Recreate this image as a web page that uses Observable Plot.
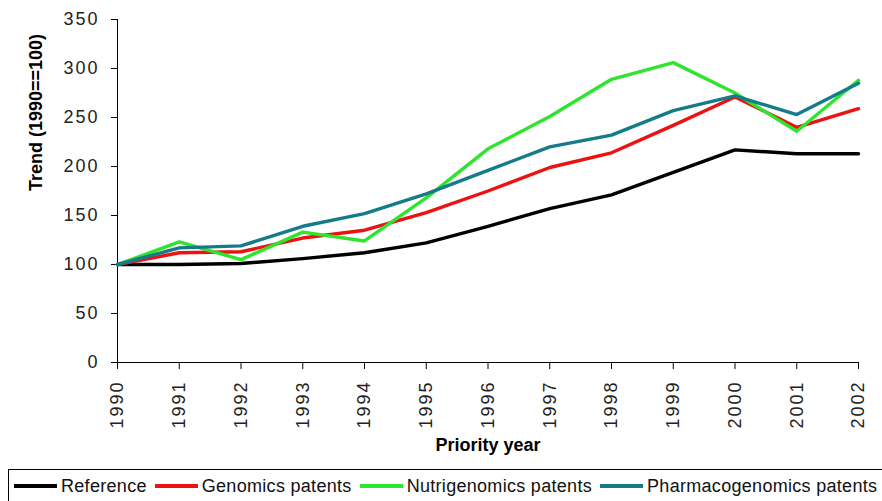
<!DOCTYPE html>
<html>
<head>
<meta charset="utf-8">
<script src="https://cdn.jsdelivr.net/npm/d3@7"></script>
<script src="https://cdn.jsdelivr.net/npm/@observablehq/plot@0.6"></script>
<style>
  html, body { margin: 0; padding: 0; background: #fff; overflow: hidden; }
  body { position: relative; width: 882px; height: 501px; font-family: "Liberation Sans", Arial, sans-serif; }
  #chart svg { display: block; }
  #chart [aria-label="y-axis tick label"] text,
  #chart [aria-label="x-axis tick label"] text { letter-spacing: 2px; }
  #legend {
    position: absolute; left: 8px; top: 469px; width: 890px; height: 34px;
    border: 1px solid #000; box-sizing: border-box;
    display: flex; align-items: center; padding-left: 5px;
    font-size: 18px; color: #111; letter-spacing: 0.3px;
  }
  .item { display: flex; align-items: center; margin-right: 8px; white-space: nowrap; }
  .sw { width: 43px; height: 4px; margin-right: 4px; }
</style>
</head>
<body>
<div id="chart"></div>
<div id="legend"></div>
<script>
const years = [1990,1991,1992,1993,1994,1995,1996,1997,1998,1999,2000,2001,2002];
const reference        = [100,100,101,106,112,122,139,157,171,194,217,213,213];
const genomics         = [100,112,113,127,135,153,175,199,214,242,271,240,259];
const nutrigenomics    = [100,123,105,133,124,168,218,251,289,306,275,236,288];
const pharmacogenomics = [100,117,119,139,152,172,196,220,232,257,272,253,285];
const seriesNames  = ["Reference","Genomics patents","Nutrigenomics patents","Pharmacogenomics patents"];
const seriesColors = ["#000000","#ee1111","#2ee52e","#147c88"];
const yTicks = [0,50,100,150,200,250,300,350];
const yLabel = "Trend (1990==100)";
const xLabel = "Priority year";

const seriesValues = [reference, genomics, nutrigenomics, pharmacogenomics];
const data = [];
seriesNames.forEach((name, i) => {
  years.forEach((yr, j) => data.push({series: name, year: yr, value: seriesValues[i][j]}));
});

const chart = Plot.plot({
  width: 882,
  height: 468,
  marginTop: 19,
  marginBottom: 106,
  marginLeft: 117,
  marginRight: 24,
  style: {fontFamily: "'Liberation Sans', Arial, sans-serif", fontSize: "18px", color: "#222", background: "#fff"},
  x: {domain: [1990, 2002]},
  y: {domain: [0, 350]},
  color: {domain: seriesNames, range: seriesColors},
  marks: [
    Plot.axisY({ticks: yTicks, tickSize: 6, tickPadding: 12, fontSize: 18, label: null, stroke: "#000"}),
    Plot.axisX({ticks: years, tickSize: 7, tickPadding: 11, tickRotate: -90, fontSize: 18, label: null, tickFormat: d => String(d), stroke: "#000"}),
    Plot.ruleX([1990], {y1: 0, y2: 350, stroke: "#000"}),
    Plot.ruleY([0], {x1: 1990, x2: 2002, stroke: "#000"}),
    Plot.line(data, {x: "year", y: "value", z: "series", stroke: "series", strokeWidth: 3.4}),
    Plot.text([yLabel], {text: d => d, frameAnchor: "left", rotate: -90, dx: -81, fontSize: 18, fontWeight: "bold", fill: "#000"}),
    Plot.text([xLabel], {text: d => d, frameAnchor: "bottom", dy: 88, fontSize: 18, fontWeight: "bold", fill: "#000"})
  ]
});
document.getElementById("chart").appendChild(chart);

const legend = document.getElementById("legend");
seriesNames.forEach((name, i) => {
  const item = document.createElement("div");
  item.className = "item";
  const sw = document.createElement("div");
  sw.className = "sw";
  sw.style.background = seriesColors[i];
  const t = document.createElement("span");
  t.textContent = name;
  item.appendChild(sw);
  item.appendChild(t);
  legend.appendChild(item);
});
</script>
</body>
</html>
